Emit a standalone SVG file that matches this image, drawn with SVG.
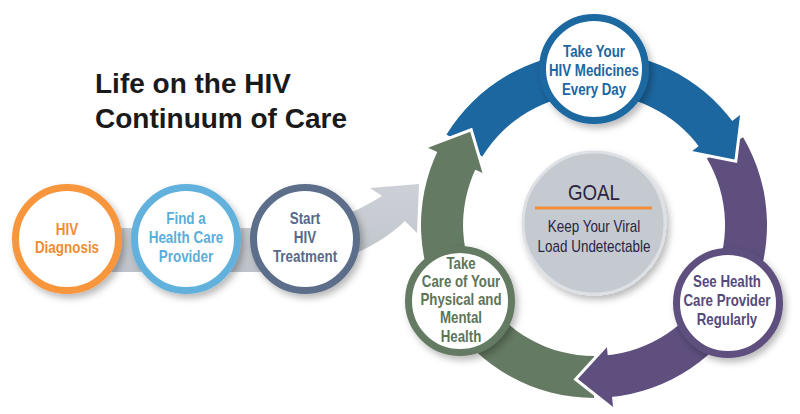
<svg xmlns="http://www.w3.org/2000/svg" width="800" height="414" viewBox="0 0 800 414">
<defs>
<filter id="sh" x="-30%" y="-30%" width="160%" height="160%">
<feDropShadow dx="3" dy="4" stdDeviation="3.5" flood-color="#000" flood-opacity="0.28"/>
</filter>
<linearGradient id="band" x1="0" y1="0" x2="0" y2="1">
<stop offset="0" stop-color="#cdd1d7"/>
<stop offset="1" stop-color="#bfc4cb"/>
</linearGradient>
<style>
.node circle{fill:#fff;stroke-width:7}
.lbl{font-family:"Liberation Sans",Arial,sans-serif;font-weight:bold;font-size:16px;text-anchor:middle}
.title{font-family:"Liberation Sans",Arial,sans-serif;font-weight:bold;font-size:28px;fill:#1a1a1a}
.goal{font-family:"Liberation Sans",Arial,sans-serif;fill:#2b2240;text-anchor:middle}
.hd{fill:none;stroke:#fff;stroke-width:6;stroke-linejoin:miter}
</style>
</defs>
<rect width="800" height="414" fill="#fff"/>

<g id="title">
<text class="title" x="95" y="93">Life on the HIV</text>
<text class="title" x="95" y="128">Continuum of Care</text>
</g>

<g id="connectors">
<path id="gray-arrow" d="M 67 228 L 300 228 Q 340 222 382 196 L 370 188 L 419 184 L 417 233 L 405 221 Q 370 255 300 272 L 67 272 Z" fill="url(#band)"/>
<path id="green-arc" d="M 594 398 A 173 173 0 0 1 438.5 149.2 L 476.3 167.6 A 131 131 0 0 0 594 356 Z" fill="#657a62"/>
<path id="blue-arc" d="M 446.5 134.6 A 173 173 0 0 1 734 123.3 L 700 148 A 131 131 0 0 0 482.3 156.6 Z" fill="#1c67a0"/>
<path id="purple-arc" d="M 743.1 137.2 A 173 173 0 0 1 609.1 397.3 L 605.4 355.5 A 131 131 0 0 0 706.9 158.5 Z" fill="#5e4f7f"/>
<path class="hd" d="M 428.1 147.7 L 470.2 131.7 L 482.5 173"/>
<path d="M 428.1 147.7 L 470.2 131.7 L 482.5 173 Z" fill="#657a62"/>
<path class="hd" d="M 740.1 114.9 L 734.5 159.5 L 692.2 151"/>
<path d="M 740.1 114.9 L 734.5 159.5 L 692.2 151 Z" fill="#1c67a0"/>
<path class="hd" d="M 613.1 407 L 577.8 379.1 L 606.9 347.3"/>
<path d="M 613.1 407 L 577.8 379.1 L 606.9 347.3 Z" fill="#5e4f7f"/>
</g>

<g id="n-diagnosis" class="node">
<circle cx="67" cy="239" r="51.5" stroke="#f7963c" filter="url(#sh)"/>
<text class="lbl" fill="#ef8c36" transform="translate(67 0) scale(0.84 1)"><tspan x="0" y="235">HIV</tspan><tspan x="0" y="253">Diagnosis</tspan></text>
</g>
<g id="n-provider" class="node">
<circle cx="186" cy="239" r="51.5" stroke="#62b1dd" filter="url(#sh)"/>
<text class="lbl" fill="#5aaedb" transform="translate(186 0) scale(0.84 1)"><tspan x="0" y="224">Find a</tspan><tspan x="0" y="243">Health Care</tspan><tspan x="0" y="262">Provider</tspan></text>
</g>
<g id="n-treatment" class="node">
<circle cx="305" cy="239" r="51.5" stroke="#5b6e8a" filter="url(#sh)"/>
<text class="lbl" fill="#56698a" transform="translate(305 0) scale(0.84 1)"><tspan x="0" y="224">Start</tspan><tspan x="0" y="243">HIV</tspan><tspan x="0" y="262">Treatment</tspan></text>
</g>

<g id="n-goal">
<circle cx="594" cy="223" r="71" fill="#c5cad1" stroke="#dde0e4" stroke-width="3" filter="url(#sh)"/>
<text class="goal" font-size="22" transform="translate(594 0) scale(0.85 1)" x="0" y="200">GOAL</text>
<line x1="535" y1="208" x2="652" y2="208" stroke="#f0913a" stroke-width="3"/>
<text class="goal" font-size="16" transform="translate(594 0) scale(0.84 1)"><tspan x="0" y="232">Keep Your Viral</tspan><tspan x="0" y="252">Load Undetectable</tspan></text>
</g>

<g id="n-medicines" class="node">
<circle cx="594" cy="69" r="51.5" stroke="#1c67a0" filter="url(#sh)"/>
<text class="lbl" fill="#1e66a0" transform="translate(594 0) scale(0.83 1)"><tspan x="0" y="57">Take Your</tspan><tspan x="0" y="76">HIV Medicines</tspan><tspan x="0" y="95">Every Day</tspan></text>
</g>
<g id="n-see-provider" class="node">
<circle cx="728" cy="303" r="51.5" stroke="#5e4f7f" filter="url(#sh)"/>
<text class="lbl" fill="#574a7b" transform="translate(727 0) scale(0.83 1)"><tspan x="0" y="287">See Health</tspan><tspan x="0" y="306">Care Provider</tspan><tspan x="0" y="325">Regularly</tspan></text>
</g>
<g id="n-self-care" class="node">
<circle cx="460" cy="301" r="51.5" stroke="#657a62" filter="url(#sh)"/>
<text class="lbl" fill="#5c7559" transform="translate(461 0) scale(0.83 1)"><tspan x="0" y="269">Take</tspan><tspan x="0" y="287">Care of Your</tspan><tspan x="0" y="305">Physical and</tspan><tspan x="0" y="323">Mental</tspan><tspan x="0" y="342">Health</tspan></text>
</g>
</svg>
